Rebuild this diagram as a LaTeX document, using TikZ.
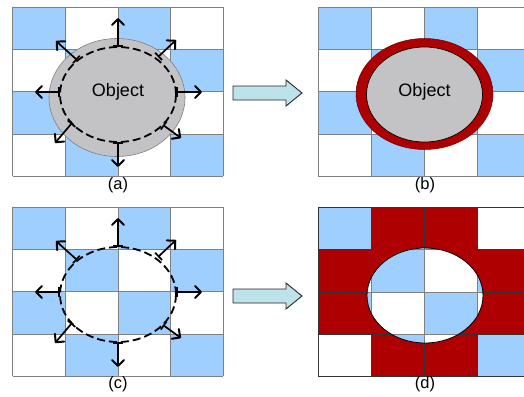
\documentclass[tikz,border=0pt]{standalone}
\usepackage{fontspec}
\setmainfont{Liberation Sans}
\usetikzlibrary{arrows.meta,shapes.geometric}
\definecolor{cellblue}{HTML}{9FCFFF}
\definecolor{objgray}{HTML}{C3C3C6}
\definecolor{ringred}{HTML}{AE0000}
\definecolor{arrowfill}{HTML}{BDE2E9}
\definecolor{gridgray}{HTML}{808080}
% #1 x0, #2 y0, #3 cell width
\newcommand\mycells[3]{%
  \foreach \r in {0,...,3}{\foreach \c in {0,...,3}{%
    \pgfmathtruncatemacro\pty{mod(\r+\c,2)}%
    \ifnum\pty=0
      \fill[cellblue] ({#1+\c*#3},{#2+\r*42.3}) rectangle ++(#3,42.3);
    \else
      \fill[white] ({#1+\c*#3},{#2+\r*42.3}) rectangle ++(#3,42.3);
    \fi
  }}}
% #1 x0, #2 y0, #3 cell width, #4 colour
\newcommand\mylines[4]{%
  \foreach \c in {0,...,4}{\draw[gridline,#4] ({#1+\c*#3},#2) -- ++(0,169.2);}
  \foreach \r in {0,...,4}{\draw[gridline,#4] (#1,{#2+\r*42.3}) -- ++({4*#3},0);}
}
\tikzset{
  gridline/.style={line width=0.8pt},
  radarrow/.style={line width=1.7pt,line cap=butt,
    {Bar[width=10pt,line width=1.7pt]}-{Straight Barb[length=6pt,width=12pt,line width=2pt,round]}},
  dashring/.style={ellipse,draw,line width=1.8pt,dash pattern=on 8pt off 4pt,
    inner sep=0pt,outer sep=0pt,minimum width=116pt,minimum height=95pt},
  objtext/.style={font=\fontsize{18}{21}\selectfont},
  panellabel/.style={font=\fontsize{16.5}{19}\selectfont},
  blockarr/.style={fill=arrowfill,draw=black!85,line width=0.9pt,line join=miter},
}
\begin{document}
\begin{tikzpicture}[x=1pt,y=-1pt]
\useasboundingbox (0,0) rectangle (524,396);
\clip (0,0) rectangle (524,396);
\fill[white] (0,0) rectangle (524,396);

% ---------- panel (a)
\mycells{12.5}{7}{52.7}
\mylines{12.5}{7}{52.7}{gridgray}
\node[ellipse,fill=objgray,draw=gridgray,line width=0.6pt,inner sep=0pt,
      minimum width=136pt,minimum height=118pt] (objA) at (117,97.5) {};
\node[dashring] (dashA) at (118,94.5) {};
\node[objtext] (txtA) at (118,92) {Object};
\foreach \sx/\sy/\ex/\ey [count=\i] in
  {118/47/118/18, 118/142/118/167, 60/92/35/92, 176/92/202/92,
   77/60/56/41, 158/57/176/40, 72/123/55/143, 163/125/181/138}{
  \coordinate (a-s\i) at (\sx,\sy);
  \coordinate (a-e\i) at (\ex,\ey);
  \draw[radarrow] (a-s\i) -- (a-e\i);
}
\node[panellabel] (labA) at (118,185) {(a)};

% ---------- block arrows
\coordinate (arrTop) at (233,93);
\draw[blockarr] (arrTop) ++(0,-7) -- ++(53,0) -- ++(0,-6) -- ++(16,13)
  -- ++(-16,13) -- ++(0,-6) -- ++(-53,0) -- cycle;
\coordinate (arrBot) at (233,296);
\draw[blockarr] (arrBot) ++(0,-7) -- ++(53,0) -- ++(0,-6) -- ++(16,13)
  -- ++(-16,13) -- ++(0,-6) -- ++(-53,0) -- cycle;

% ---------- panel (b)
\mycells{318}{7}{53}
\mylines{318}{7}{53}{gridgray}
\node[ellipse,fill=ringred,draw=ringred!60!black,line width=0.5pt,inner sep=0pt,
      minimum width=137pt,minimum height=111pt] (ringB) at (424.5,94) {};
\node[ellipse,fill=objgray,draw=black,line width=0.7pt,inner sep=0pt,
      minimum width=116pt,minimum height=95pt] (objB) at (424.5,94.5) {};
\node[objtext] (txtB) at (424.5,92) {Object};
\node[panellabel] (labB) at (425,185) {(b)};

% ---------- panel (c)
\mycells{12.5}{207}{52.7}
\mylines{12.5}{207}{52.7}{gridgray}
\node[dashring] (dashC) at (118,294.5) {};
\foreach \sx/\sy/\ex/\ey [count=\i] in
  {118/247/118/218, 118/342/118/367, 60/292/35/292, 176/292/202/292,
   77/260/56/241, 158/257/176/240, 72/323/55/343, 163/325/181/338}{
  \coordinate (c-s\i) at (\sx,\sy);
  \coordinate (c-e\i) at (\ex,\ey);
  \draw[radarrow] (c-s\i) -- (c-e\i);
}
\node[panellabel] (labC) at (118,384) {(c)};

% ---------- panel (d)
\mycells{318}{207.5}{53}
\foreach \c/\r in {1/0,2/0,0/1,1/1,2/1,3/1,0/2,1/2,2/2,3/2,1/3,2/3}{
  \fill[ringred] ({318+\c*53},{207.5+\r*42.3}) rectangle ++(53,42.3);
}
\mylines{318}{207.5}{53}{black!80}
\node[ellipse,inner sep=0pt,minimum width=116pt,minimum height=95pt] (holeD) at (425,295.5) {};
\begin{scope}
  \clip (425,295.5) ellipse [x radius=58, y radius=47.5];
  \mycells{318}{207.5}{53}
  \mylines{318}{207.5}{53}{gridgray}
\end{scope}
\draw[black,line width=0.8pt] (holeD.center) ellipse [x radius=58, y radius=47.5];
\node[panellabel] (labD) at (425,384) {(d)};
\end{tikzpicture}
\end{document}
